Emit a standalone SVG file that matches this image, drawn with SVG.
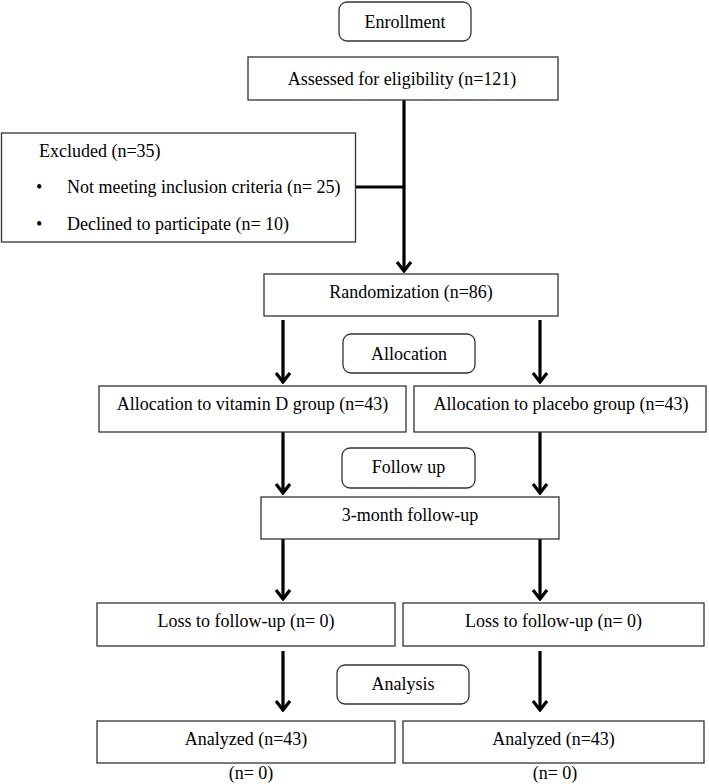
<svg xmlns="http://www.w3.org/2000/svg" width="709" height="784" viewBox="0 0 709 784">
<style>
  .box { fill: #ffffff; stroke: #333333; stroke-width: 1.3; }
  .t { font-family: "Liberation Serif", "Times New Roman", serif; font-size: 18px; fill: #000000; }
  .c { text-anchor: middle; }
  .conn { stroke: #000000; stroke-width: 3.2; fill: none; }
</style>
<defs>
  <marker id="ah" viewBox="-12 -9 14 18" refX="0" refY="0" markerWidth="14" markerHeight="18" orient="auto" markerUnits="userSpaceOnUse">
    <path d="M -9 -7 L 0 0 L -9 7" fill="none" stroke="#000000" stroke-width="3.2" stroke-linejoin="miter"/>
  </marker>
</defs>
<rect width="709" height="784" fill="#ffffff"/>

<g id="connectors">
  <line class="conn" x1="404" y1="100" x2="404" y2="271" marker-end="url(#ah)"/>
  <line class="conn" x1="356" y1="187" x2="404" y2="187"/>
  <line class="conn" x1="283" y1="320" x2="283" y2="382" marker-end="url(#ah)"/>
  <line class="conn" x1="540" y1="320" x2="540" y2="382" marker-end="url(#ah)"/>
  <line class="conn" x1="283" y1="432" x2="283" y2="493" marker-end="url(#ah)"/>
  <line class="conn" x1="540" y1="432" x2="540" y2="493" marker-end="url(#ah)"/>
  <line class="conn" x1="283" y1="539" x2="283" y2="599" marker-end="url(#ah)"/>
  <line class="conn" x1="540" y1="539" x2="540" y2="599" marker-end="url(#ah)"/>
  <line class="conn" x1="283" y1="651" x2="283" y2="710" marker-end="url(#ah)"/>
  <line class="conn" x1="540" y1="651" x2="540" y2="710" marker-end="url(#ah)"/>
</g>

<g id="enrollment">
  <rect class="box" x="339" y="2" width="132" height="39" rx="8"/>
  <text class="t c" x="405" y="28">Enrollment</text>
</g>
<g id="assessed">
  <rect class="box" x="248" y="57" width="310" height="43"/>
  <text class="t c" x="402" y="85">Assessed for eligibility (n=121)</text>
</g>
<g id="excluded">
  <rect class="box" x="1.5" y="133" width="354" height="109"/>
  <text class="t" x="39" y="157">Excluded (n=35)</text>
  <text class="t" x="36" y="193">•</text>
  <text class="t" x="67" y="193">Not meeting inclusion criteria (n= 25)</text>
  <text class="t" x="36" y="230">•</text>
  <text class="t" x="67" y="230">Declined to participate (n= 10)</text>
</g>
<g id="randomization">
  <rect class="box" x="264" y="274" width="294" height="42"/>
  <text class="t c" x="411" y="298">Randomization (n=86)</text>
</g>
<g id="allocation">
  <rect class="box" x="343" y="334" width="132" height="39" rx="8"/>
  <text class="t c" x="409" y="360">Allocation</text>
</g>
<g id="vitaminD">
  <rect class="box" x="99" y="386" width="307" height="46"/>
  <text class="t c" x="252.5" y="410">Allocation to vitamin D group (n=43)</text>
</g>
<g id="placebo">
  <rect class="box" x="414" y="386" width="292" height="46"/>
  <text class="t c" x="561" y="410">Allocation to placebo group (n=43)</text>
</g>
<g id="followup">
  <rect class="box" x="342" y="448" width="133" height="40" rx="8"/>
  <text class="t c" x="408.5" y="473">Follow up</text>
</g>
<g id="threemonth">
  <rect class="box" x="261" y="497" width="298" height="42"/>
  <text class="t c" x="410" y="521">3-month follow-up</text>
</g>
<g id="lossLeft">
  <rect class="box" x="97" y="603" width="298" height="43"/>
  <text class="t c" x="246" y="627">Loss to follow-up (n= 0)</text>
</g>
<g id="lossRight">
  <rect class="box" x="403" y="603" width="301" height="43"/>
  <text class="t c" x="553.5" y="627">Loss to follow-up (n= 0)</text>
</g>
<g id="analysis">
  <rect class="box" x="337" y="665" width="132" height="39" rx="8"/>
  <text class="t c" x="403" y="690">Analysis</text>
</g>
<g id="analyzedLeft">
  <rect class="box" x="97" y="721" width="298" height="42"/>
  <text class="t c" x="246" y="745">Analyzed (n=43)</text>
  <text class="t c" x="251" y="779">(n= 0)</text>
</g>
<g id="analyzedRight">
  <rect class="box" x="403" y="721" width="301" height="42"/>
  <text class="t c" x="553.5" y="745">Analyzed (n=43)</text>
  <text class="t c" x="555" y="779">(n= 0)</text>
</g>
</svg>
